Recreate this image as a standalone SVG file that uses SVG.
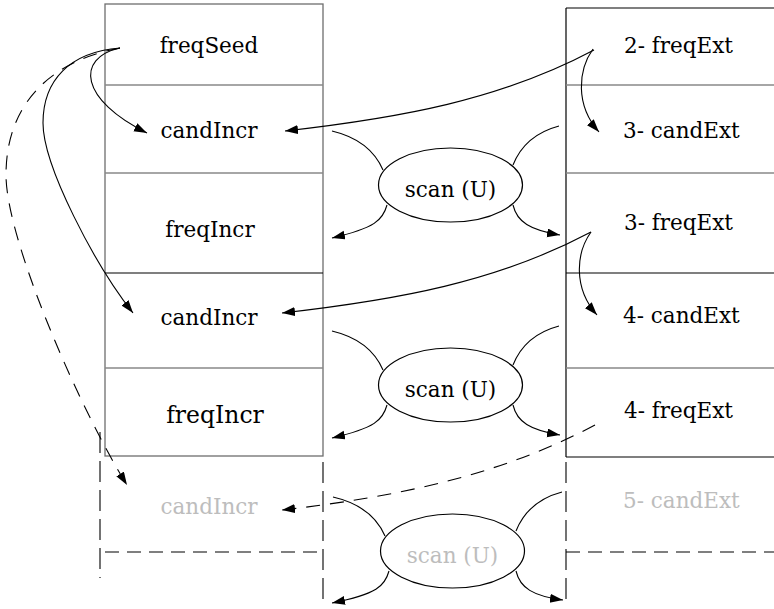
<svg xmlns="http://www.w3.org/2000/svg" width="774" height="609" viewBox="0 0 774 609">
<style>
text{font-family:'DejaVu Serif','Liberation Serif',serif;font-size:21.5px;fill:#000}
.g{fill:#bdbdbd}
.c{text-anchor:middle}
.frame{fill:none;stroke:#6e6e6e;stroke-width:1.3}
.div{stroke:#888;stroke-width:1.3}
.dk{stroke:#000;stroke-width:1.2}
.dash{stroke:#000;stroke-width:1.1;stroke-dasharray:14 8;fill:none}
.vdash{stroke:#000;stroke-width:1.1;stroke-dasharray:21 8;fill:none}
.e{fill:#fff;stroke:#000;stroke-width:1.2}
.cn{fill:none;stroke:#000;stroke-width:1.1}
.ar{marker-end:url(#ah)}
.cd{stroke-dasharray:14 10}
</style>
<defs>
<marker id="ah" markerUnits="userSpaceOnUse" markerWidth="14" markerHeight="10" refX="13" refY="4.5" orient="auto">
<path d="M0,0 L13,4.5 L0,9 z" fill="#000"/>
</marker>
</defs>
<rect width="774" height="609" fill="#fff"/>

<g id="left-column">
<rect class="frame" x="105" y="4" width="218" height="452"/>
<line class="div" x1="105" y1="85" x2="323" y2="85"/>
<line class="div" x1="105" y1="173" x2="323" y2="173"/>
<line class="dk" x1="105" y1="273" x2="323" y2="273"/>
<line class="div" x1="105" y1="368" x2="323" y2="368"/>
<line class="vdash" x1="100" y1="432" x2="100" y2="578"/>
<line class="vdash" x1="323" y1="462" x2="323" y2="606"/>
<line class="dash" x1="105" y1="552" x2="323" y2="552"/>
</g>
<g id="right-column">
<line class="dk" x1="566" y1="8" x2="566" y2="457" stroke="#333"/>
<line class="dk" x1="566" y1="8" x2="774" y2="8" stroke="#444"/>
<line class="div" x1="566" y1="85" x2="774" y2="85"/>
<line class="div" x1="566" y1="173" x2="774" y2="173"/>
<line class="dk" x1="566" y1="273" x2="774" y2="273"/>
<line class="div" x1="566" y1="368" x2="774" y2="368"/>
<line class="dk" x1="566" y1="457" x2="774" y2="457"/>
<line class="vdash" x1="566" y1="462" x2="566" y2="606"/>
<line class="dash" x1="566" y1="552" x2="774" y2="552"/>
</g>

<g id="n-freqSeed"><text class="c" x="209" y="53">freqSeed</text></g>
<g id="n-candIncr1"><text class="c" x="209" y="138">candIncr</text></g>
<g id="n-freqIncr1"><text class="c" x="210" y="237">freqIncr</text></g>
<g id="n-candIncr2"><text class="c" x="209" y="325">candIncr</text></g>
<g id="n-freqIncr2"><text class="c" x="215" y="423" style="font-size:23.5px">freqIncr</text></g>
<g id="n-candIncr3"><text class="c g" x="209" y="514">candIncr</text></g>

<g id="n-freqExt2"><text x="624" y="53">2- freqExt</text></g>
<g id="n-candExt3"><text x="623" y="138">3- candExt</text></g>
<g id="n-freqExt3"><text x="624" y="230">3- freqExt</text></g>
<g id="n-candExt4"><text x="623" y="323">4- candExt</text></g>
<g id="n-freqExt4"><text x="624" y="418">4- freqExt</text></g>
<g id="n-candExt5"><text class="g" x="623" y="508">5- candExt</text></g>

<g id="connectors">
<path class="cn ar" d="M120,48 C75,58 80,100 147,133"/>
<path class="cn ar" d="M120,48 C70,52 43,80 43,123 C43,166 95,265 133,313"/>
<path class="cn ar cd" d="M120,48 C55,60 6,100 6,175 C6,240 80,410 127,485"/>
<path class="cn ar" d="M594,50 C500,100 400,118 285,131"/>
<path class="cn ar" d="M593,49 C578,70 575,105 599,132"/>
<path class="cn ar" d="M591,232 C497,282 397,300 282,313"/>
<path class="cn ar" d="M591,232 C576,253 573,288 597,315"/>
<path class="cn ar cd" d="M595,425 C501,475 397,497 282,510"/>

<path class="cn" d="M332,131 Q370,140 383,170"/>
<path class="cn ar" d="M387,205 C383,220 375,228 332,238"/>
<path class="cn" d="M559,126 Q525,135 513,165"/>
<path class="cn ar" d="M513,205 C517,222 530,230 560,235"/>

<path class="cn" d="M332,331 Q370,340 383,370"/>
<path class="cn ar" d="M387,405 C383,420 375,428 332,438"/>
<path class="cn" d="M559,326 Q525,335 513,365"/>
<path class="cn ar" d="M513,405 C517,422 530,430 560,435"/>

<path class="cn" d="M333,497 Q372,506 385,536"/>
<path class="cn ar" d="M389,571 C385,586 377,594 332,603"/>
<path class="cn" d="M562,492 Q528,501 516,531"/>
<path class="cn ar" d="M516,571 C520,588 533,596 563,600"/>
</g>

<g id="n-scan1"><ellipse class="e" cx="450.5" cy="185" rx="72" ry="37"/><text class="c" x="450.5" y="197">scan (U)</text></g>
<g id="n-scan2"><ellipse class="e" cx="450.5" cy="385" rx="72" ry="37"/><text class="c" x="450.5" y="397">scan (U)</text></g>
<g id="n-scan3"><ellipse class="e" cx="452.5" cy="551" rx="72" ry="37"/><text class="c g" x="452.5" y="563">scan (U)</text></g>
</svg>
